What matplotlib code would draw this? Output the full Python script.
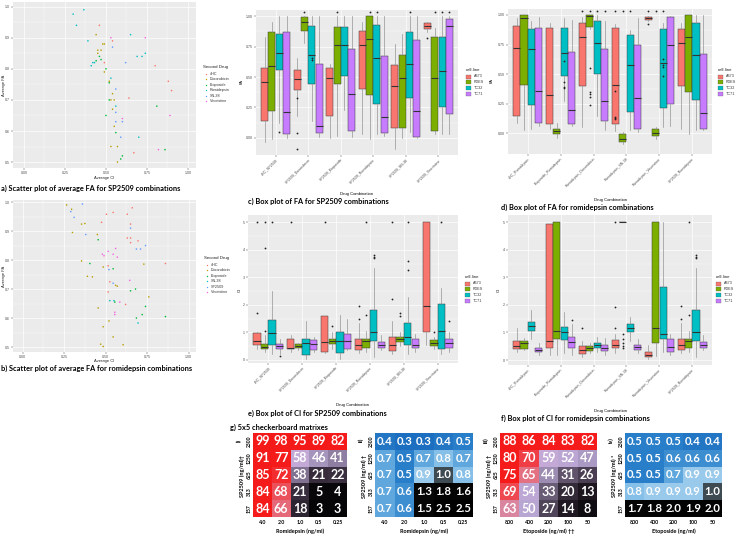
import numpy as np
import matplotlib.pyplot as plt
from matplotlib.colors import LinearSegmentedColormap, Normalize
from matplotlib.patches import Rectangle
from matplotlib.lines import Line2D

plt.rcParams['font.family'] = ['Liberation Sans', 'DejaVu Sans']
TITLE_FONT = ['Lato', 'DejaVu Sans']

W, H = 740, 537
PANEL = '#EBEBEB'

# ---------------- scatter data ----------------
a_drugs = ['4HC', 'Doxorubicin', 'Etoposide', 'Romidepsin', 'SN-38', 'Vincristine']
b_drugs = ['4HC', 'Doxorubicin', 'Etoposide', 'SN-38', 'SP2509', 'Vincristine']
drug_colors = ['#F8766D', '#B79F00', '#00BA38', '#00BFC4', '#619CFF', '#F564E3']

a_ci = [0.30, 0.365, 0.32, 0.46, 0.44, 0.53, 0.54, 0.65, 0.74, 0.39, 0.49, 0.48, 0.45, 0.47, 0.54,
        0.74, 0.69, 0.72, 0.45, 0.46, 0.47, 0.44, 0.43, 0.42, 0.41, 0.49, 0.62, 0.80, 0.50, 0.49,
        0.52, 0.52, 0.53, 0.56, 0.88, 0.90, 0.54, 0.55, 0.53, 0.52, 0.64, 0.56, 0.54, 0.81, 0.50,
        0.56, 0.60, 0.60, 0.56, 0.55, 0.89, 0.56, 0.59, 0.70, 0.53, 0.57, 0.67, 0.82, 0.86, 0.60,
        0.59, 0.57]
a_fa = [0.976, 0.99, 0.94, 0.94, 0.91, 0.90, 0.89, 0.91, 0.90, 0.89, 0.88, 0.88, 0.86, 0.86, 0.87,
        0.85, 0.84, 0.84, 0.85, 0.84, 0.83, 0.826, 0.82, 0.82, 0.81, 0.82, 0.82, 0.81, 0.80, 0.79,
        0.76, 0.755, 0.77, 0.735, 0.76, 0.73, 0.72, 0.70, 0.70, 0.70, 0.706, 0.68, 0.67, 0.68, 0.65,
        0.66, 0.64, 0.63, 0.63, 0.615, 0.65, 0.595, 0.58, 0.58, 0.55, 0.55, 0.53, 0.54, 0.54, 0.52,
        0.51, 0.50]
a_drug = [3, 3, 3, 0, 1, 5, 0, 3, 5, 3, 1, 1, 1, 1, 4,
          3, 3, 3, 1, 2, 2, 2, 3, 3, 3, 0, 4, 0, 2, 1,
          1, 2, 3, 4, 0, 0, 1, 1, 1, 2, 0, 3, 1, 2, 2,
          4, 5, 4, 4, 1, 5, 2, 4, 3, 1, 1, 0, 5, 2, 2,
          2, 1]

b_ci = [0.265, 0.295, 0.29, 0.36, 0.31, 0.505, 0.545, 0.63, 0.66, 0.475, 0.355, 0.375, 0.65, 0.65,
        0.30, 0.38, 0.45, 0.455, 0.63, 0.65, 0.695, 0.65, 0.74, 0.685, 0.71, 0.56, 0.515, 0.48,
        0.49, 0.545, 0.57, 0.355, 0.405, 0.73, 0.86, 0.515, 0.485, 0.52, 0.545, 0.39, 0.42, 0.525,
        0.545, 0.645, 0.56, 0.57, 0.515, 0.65, 0.68, 0.76, 0.525, 0.55, 0.555, 0.585, 0.62, 0.455,
        0.74, 0.555, 0.555, 0.72, 0.685, 0.86, 0.52, 0.695, 0.485, 0.545, 0.47, 0.485, 0.605]
b_fa = [0.99, 0.975, 0.967, 0.993, 0.947, 0.958, 0.964, 0.958, 0.98, 0.93, 0.924, 0.926, 0.924, 0.91,
        0.895, 0.888, 0.888, 0.87, 0.876, 0.876, 0.866, 0.86, 0.85, 0.838, 0.838, 0.84, 0.83, 0.82,
        0.815, 0.82, 0.81, 0.797, 0.788, 0.786, 0.788, 0.78, 0.776, 0.767, 0.77, 0.744, 0.742, 0.725,
        0.72, 0.73, 0.713, 0.71, 0.69, 0.694, 0.70, 0.673, 0.66, 0.66, 0.655, 0.655, 0.647, 0.635,
        0.64, 0.62, 0.612, 0.612, 0.60, 0.605, 0.59, 0.583, 0.57, 0.535, 0.51, 0.502, 0.508]
b_drug = [1, 1, 4, 4, 4, 0, 0, 0, 0, 0, 1, 1, 0, 4,
          1, 4, 1, 2, 0, 0, 0, 0, 4, 4, 4, 5, 5, 5,
          5, 5, 5, 1, 2, 1, 0, 0, 1, 4, 2, 1, 1, 0,
          4, 5, 1, 1, 0, 2, 2, 1, 3, 3, 2, 5, 0, 1,
          2, 5, 5, 2, 2, 2, 1, 3, 1, 1, 1, 1, 1]

# ---------------- box plot data (6 combinations x 4 cell lines) ----------------
cell_lines = ['A673', 'RDES', 'TC32', 'TC71']
cell_colors = ['#F8766D', '#7CAE00', '#00BFC4', '#C77CFF']
sp_combos = ['4HC_SP2509', 'SP2509_Doxorubicin', 'SP2509_Etoposide',
             'SP2509_Romidepsin', 'SP2509_SN-38', 'SP2509_Vincristine']
ro_combos = ['4HC_Romidepsin', 'Etoposide_Romidepsin', 'Romidepsin_Doxorubicin',
             'Romidepsin_SN-38', 'Romidepsin_Vincristine', 'SP2509_Romidepsin']

# c) FA, SP2509 combinations
c_lo = [[-0.03, -0.01, 0.12, 0.0], [0.18, 0.78, 0.14, 0.01], [0.0, 0.02, 0.23, 0.01],
        [0.03, -0.01, 0.03, 0.02], [-0.09, 0.0, 0.05, 0.0], [0.87, 0.03, 0.03, 0.03]]
c_q1 = [[0.14, 0.22, 0.56, 0.03], [0.39, 0.88, 0.44, 0.04], [0.18, 0.44, 0.51, 0.06],
        [0.40, 0.35, 0.28, 0.04], [0.08, 0.08, 0.33, 0.01], [0.89, 0.06, 0.25, 0.20]]
c_med = [[0.46, 0.59, 0.70, 0.21], [0.48, 0.95, 0.68, 0.10], [0.49, 0.76, 0.76, 0.36],
         [0.76, 0.81, 0.66, 0.17], [0.43, 0.49, 0.61, 0.22], [0.915, 0.49, 0.55, 0.915]]
c_q3 = [[0.57, 0.87, 0.85, 0.87], [0.56, 0.99, 0.92, 0.61], [0.57, 0.91, 0.91, 0.73],
        [0.88, 1.0, 0.93, 0.67], [0.60, 0.68, 0.87, 0.80], [0.94, 0.83, 0.83, 0.98]]
c_hi = [[0.83, 0.95, 1.0, 1.0], [0.66, 1.0, 1.0, 1.0], [0.61, 1.0, 1.0, 1.0],
        [0.95, 1.0, 1.0, 1.0], [0.77, 0.85, 1.0, 1.0], [0.95, 0.90, 1.0, 1.0]]
c_fl = [[[], [], [0.05], []], [[0.33, 0.04, -0.09], [1.03], [0.64, 0.66], []],
        [[], [1.03], [], []], [[], [1.03], [1.03], []], [[], [], [1.03], []],
        [[0.82], [1.03], [1.03], [1.03]]]

# d) FA, romidepsin combinations
d_lo = [[0.09, 0.03, 0.04, 0.06], [0.04, -0.04, 0.27, 0.06], [0.05, 0.88, 0.15, 0.03],
        [0.02, -0.09, 0.03, 0.01], [0.95, -0.05, 0.05, 0.06], [0.04, -0.01, 0.03, 0.03]]
d_q1 = [[0.15, 0.41, 0.24, 0.09], [0.08, -0.005, 0.48, 0.08], [0.40, 0.90, 0.50, 0.10],
        [0.08, -0.07, 0.18, 0.04], [0.96, -0.02, 0.21, 0.25], [0.40, 0.35, 0.28, 0.04]]
d_med = [[0.72, 0.97, 0.71, 0.36], [0.32, 0.02, 0.68, 0.20], [0.81, 0.99, 0.76, 0.27],
         [0.41, -0.045, 0.58, 0.30], [0.97, 0.005, 0.59, 0.75], [0.76, 0.81, 0.66, 0.17]]
d_q3 = [[0.91, 1.0, 0.88, 0.89], [0.89, 0.04, 0.89, 0.69], [0.93, 1.0, 0.95, 0.71],
        [0.89, -0.01, 0.83, 0.75], [0.98, 0.04, 0.88, 0.98], [0.88, 1.0, 0.93, 0.67]]
d_hi = [[0.97, 1.0, 0.95, 0.98], [0.93, 0.09, 0.97, 0.96], [0.98, 1.0, 1.0, 0.95],
        [0.92, 0.01, 0.87, 0.97], [0.99, 0.05, 0.93, 0.99], [0.93, 1.0, 1.0, 1.0]]
d_fl = [[[], [], [], []], [[], [], [0.61, 0.43, 0.39, 0.38], []],
        [[1.03], [0.55, 0.35, 0.33, 0.31, 0.24, 1.03], [1.03], [1.03]],
        [[0.36, 0.14, 0.13, 0.12, 1.03], [1.03], [1.03], []],
        [[0.92, 1.03], [1.03], [0.63, 0.58, 0.56, 0.48, 1.03], []], [[], [], [], []]]

# e) CI, SP2509 combinations
e_lo = [[0.4, 0.3, 0.2, 0.2], [0.3, 0.35, 0.05, 0.3], [0.25, 0.4, 0.05, 0.35],
        [0.25, 0.3, 0.1, 0.35], [0.2, 0.5, 0.2, 0.3], [0.55, 0.4, 0.2, 0.3]]
e_q1 = [[0.54, 0.39, 0.53, 0.39], [0.40, 0.45, 0.17, 0.38], [0.30, 0.58, 0.27, 0.40],
        [0.35, 0.42, 0.70, 0.42], [0.34, 0.65, 0.55, 0.45], [1.0, 0.5, 0.4, 0.45]]
e_med = [[0.70, 0.48, 0.97, 0.50], [0.45, 0.52, 0.62, 0.57], [0.65, 0.68, 0.70, 0.68],
         [0.53, 0.70, 1.0, 0.55], [0.55, 0.75, 0.85, 0.55], [1.95, 0.63, 1.05, 0.6]]
e_q3 = [[0.99, 0.57, 1.45, 0.57], [0.78, 0.58, 0.75, 0.72], [1.6, 0.78, 1.02, 0.95],
        [0.78, 0.78, 1.8, 0.65], [0.85, 0.85, 1.33, 0.75], [5.0, 0.72, 2.05, 0.78]]
e_hi = [[1.0, 0.9, 2.5, 0.75], [0.9, 0.6, 1.4, 0.85], [1.6, 1.0, 1.65, 1.5],
        [1.35, 1.05, 3.35, 0.92], [1.4, 1.0, 2.3, 0.95], [5.0, 0.85, 2.6, 1.0]]
e_fl = [[[1.7, 5.0], [1.05, 4.07, 5.0], [5.0], [0.15]], [[5.0], [], [], []],
        [[5.0], [1.25], [], []], [[1.48, 1.95], [1.65, 5.0], [3.7, 3.75, 3.8], []],
        [[2.2, 5.0], [1.6, 1.7], [3.25, 3.6, 5.0], []], [[], [1.0], [5.0], [1.4]]]

# f) CI, romidepsin combinations
f_lo = [[0.3, 0.35, 0.75, 0.2], [0.2, 0.2, 0.25, 0.2], [0.1, 0.25, 0.3, 0.2],
        [0.25, 5.0, 0.7, 0.25], [0.05, 0.15, 0.3, 0.2], [0.25, 0.3, 0.1, 0.35]]
f_q1 = [[0.4, 0.4, 1.05, 0.3], [0.45, 0.75, 0.72, 0.45], [0.22, 0.32, 0.45, 0.32],
        [0.45, 5.0, 1.0, 0.38], [0.1, 0.62, 0.75, 0.3], [0.35, 0.42, 0.70, 0.42]]
f_med = [[0.5, 0.62, 1.22, 0.38], [0.68, 1.05, 1.0, 0.65], [0.35, 0.45, 0.55, 0.42],
         [0.55, 5.0, 1.18, 0.47], [0.2, 1.18, 0.93, 0.47], [0.53, 0.70, 1.0, 0.55]]
f_q3 = [[0.7, 0.68, 1.38, 0.45], [4.95, 5.0, 1.2, 0.85], [0.5, 0.52, 0.62, 0.55],
        [0.72, 5.0, 1.32, 0.55], [0.3, 5.0, 2.65, 0.75], [0.78, 0.78, 1.8, 0.65]]
f_hi = [[1.15, 0.8, 1.82, 0.6], [4.95, 5.0, 1.75, 1.3], [0.7, 0.62, 0.85, 0.8],
        [0.95, 5.0, 1.55, 0.75], [0.55, 5.0, 5.0, 0.95], [1.35, 1.05, 3.35, 0.92]]
f_fl = [[[], [], [], []], [[], [], [], [1.45]], [[1.15], [], [], []],
        [[1.18, 1.92, 5.0], [0.45, 0.5, 0.6, 0.75, 0.95], [], []], [[], [], [], []],
        [[1.48, 1.95], [1.65, 5.0], [3.7, 3.75, 3.8], []]]

# ---------------- checkerboard data ----------------
sp_doses = ['2500', '1250', '625', '313', '157']
romi_doses = ['4.0', '2.0', '1.0', '0.5', '0.25']
eto_doses = ['800', '400', '200', '100', '50']
g1_fa = [[99, 98, 95, 89, 82], [91, 77, 58, 46, 41], [85, 72, 38, 21, 22],
         [84, 68, 21, 5, 4], [84, 66, 18, 3, 3]]
g2_ci = [[0.4, 0.3, 0.3, 0.4, 0.5], [0.7, 0.5, 0.7, 0.8, 0.7], [0.7, 0.5, 0.9, 1.0, 0.8],
         [0.7, 0.6, 1.3, 1.8, 1.6], [0.7, 0.6, 1.5, 2.5, 2.5]]
g3_fa = [[88, 86, 84, 83, 82], [80, 70, 59, 52, 47], [75, 65, 44, 31, 26],
         [69, 54, 33, 20, 13], [63, 50, 27, 14, 8]]
g4_ci = [[0.5, 0.5, 0.5, 0.4, 0.4], [0.5, 0.5, 0.6, 0.6, 0.6], [0.5, 0.5, 0.7, 0.9, 0.9],
         [0.8, 0.9, 0.9, 0.9, 1.0], [1.7, 1.8, 2.0, 1.9, 2.0]]

fig = plt.figure(figsize=(7.4, 5.37), dpi=100)


def ax_px(x0, y0, x1, y1):
    return fig.add_axes([x0 / W, 1 - y1 / H, (x1 - x0) / W, (y1 - y0) / H])


def ftext(x, y, s, **kw):
    return fig.text(x / W, 1 - y / H, s, **kw)


def gg_style(ax):
    ax.set_facecolor(PANEL)
    ax.set_axisbelow(True)
    for s in ax.spines.values():
        s.set_visible(False)
    ax.grid(which='major', color='white', lw=0.5)
    ax.grid(which='minor', color='white', lw=0.25)
    ax.tick_params(which='major', length=1.2, width=0.3, color='#333333',
                   labelsize=2.6, labelcolor='#4D4D4D', pad=0.8)
    ax.tick_params(which='minor', length=0)


def scatter_panel(box, ci, fa, drug, xlim, ylim):
    ax = ax_px(*box)
    gg_style(ax)
    ax.scatter(ci, fa, s=1.3, c=[drug_colors[d] for d in drug], linewidths=0, zorder=3)
    ax.set_xlim(xlim)
    ax.set_ylim(ylim)
    ax.set_xticks([0, 0.25, 0.5, 0.75, 1.0])
    ax.set_xticklabels(['0.00', '0.25', '0.50', '0.75', '1.00'])
    ax.set_xticks([0.125, 0.375, 0.625, 0.875], minor=True)
    ax.set_yticks([0.5, 0.6, 0.7, 0.8, 0.9, 1.0])
    ax.set_yticklabels(['0.5', '0.6', '0.7', '0.8', '0.9', '1.0'])
    ax.set_yticks([0.55, 0.65, 0.75, 0.85, 0.95], minor=True)
    return ax


def scatter_legend(x, y, names):
    ftext(x, y, 'Second Drug', fontsize=3.2, color='#222222', va='center')
    for i, n in enumerate(names):
        yy = y + 7 + i * 5.4
        fig.add_artist(Line2D([(x + 3) / W], [1 - yy / H], marker='o', ms=1.0, mew=0,
                              color=drug_colors[i], transform=fig.transFigure))
        ftext(x + 7, yy, n, fontsize=2.7, color='#333333', va='center')


def box_panel(box, lo, q1, med, q3, hi, fl, combos, ylim, yticks, ylabels, yminor):
    ax = ax_px(*box)
    gg_style(ax)
    bw = 0.225
    for k in range(4):
        stats = [dict(whislo=lo[g][k], q1=q1[g][k], med=med[g][k], q3=q3[g][k],
                      whishi=hi[g][k], fliers=fl[g][k]) for g in range(6)]
        pos = np.arange(1, 7) + (k - 1.5) * bw
        ax.bxp(stats, positions=pos, widths=bw * 0.96, patch_artist=True, showcaps=False,
               boxprops=dict(facecolor=cell_colors[k], edgecolor='#3a3a3a', linewidth=0.35),
               medianprops=dict(color='#333333', linewidth=0.8),
               whiskerprops=dict(color='#8a8a8a', linewidth=0.45),
               flierprops=dict(marker='o', markersize=1.3, markerfacecolor='#222222',
                               markeredgecolor='none'),
               manage_ticks=False, zorder=3)
    ax.set_xlim(0.4, 6.6)
    ax.set_ylim(ylim)
    ax.set_xticks(np.arange(1, 7))
    ax.set_xticklabels(combos, rotation=45, ha='right', rotation_mode='anchor')
    ax.set_yticks(yticks)
    ax.set_yticklabels(ylabels)
    ax.set_yticks(yminor, minor=True)
    return ax


def box_legend(x, y):
    ftext(x, y, 'cell.line', fontsize=3.2, color='#222222', va='center')
    for i, n in enumerate(cell_lines):
        yy = y + 6.5 + i * 5.8
        fig.add_artist(Rectangle((x / W, 1 - (yy + 2) / H), 5 / W, 4 / H,
                                 facecolor=cell_colors[i], edgecolor='#555555', lw=0.2,
                                 transform=fig.transFigure))
        ftext(x + 8, yy, n, fontsize=2.7, color='#333333', va='center')


# ---------------- scatter plots ----------------
axa = scatter_panel((13, 2, 196, 168), a_ci, a_fa, a_drug, (-0.067, 1.049), (0.481, 1.015))
ftext(104, 178, 'Average CI', fontsize=3.0, ha='center', va='center', color='#222222')
ftext(4, 85, 'Average FA', fontsize=3.0, ha='center', va='center', rotation=90, color='#222222')
scatter_legend(203, 67, a_drugs)
ftext(1, 188, 'a) Scatter plot of average FA for SP2509 combinations', fontsize=5.3,
      fontweight='bold', family=TITLE_FONT, va='center')

axb = scatter_panel((13, 200, 196, 352), b_ci, b_fa, b_drug, (-0.058, 1.044), (0.483, 1.007))
ftext(104, 361, 'Average CI', fontsize=3.0, ha='center', va='center', color='#222222')
ftext(4, 276, 'Average FA', fontsize=3.0, ha='center', va='center', rotation=90, color='#222222')
scatter_legend(204, 258, b_drugs)
ftext(1, 368, 'b) Scatter plot of average FA for romidepsin combinations', fontsize=5.3,
      fontweight='bold', family=TITLE_FONT, va='center')

# ---------------- box plots ----------------
fa_ticks = [0.0, 0.25, 0.5, 0.75, 1.0]
fa_labels = ['0.00', '0.25', '0.50', '0.75', '1.00']
fa_minor = [0.125, 0.375, 0.625, 0.875]
ci_ticks = [0, 1, 2, 3, 4, 5]
ci_labels = ['0', '1', '2', '3', '4', '5']
ci_minor = [0.5, 1.5, 2.5, 3.5, 4.5]

box_panel((256, 10, 458, 155), c_lo, c_q1, c_med, c_q3, c_hi, c_fl, sp_combos,
          (-0.14, 1.05), fa_ticks, fa_labels, fa_minor)
ftext(242, 82, 'FA', fontsize=3.0, rotation=90, ha='center', va='center')
ftext(357, 194, 'Drug Combination', fontsize=3.0, ha='center', va='center')
box_legend(466, 70)
ftext(248, 201, 'c) Box plot of FA for SP2509 combinations', fontsize=5.3,
      fontweight='bold', family=TITLE_FONT, va='center')

box_panel((508, 9, 712, 154), d_lo, d_q1, d_med, d_q3, d_hi, d_fl, ro_combos,
          (-0.175, 1.05), fa_ticks, fa_labels, fa_minor)
ftext(492, 80, 'FA', fontsize=3.0, rotation=90, ha='center', va='center')
ftext(610, 200, 'Drug Combination', fontsize=3.0, ha='center', va='center')
box_legend(718, 70)
ftext(501, 207, 'd) Box plot of FA for romidepsin combinations', fontsize=5.3,
      fontweight='bold', family=TITLE_FONT, va='center')

box_panel((248, 215, 458, 363), e_lo, e_q1, e_med, e_q3, e_hi, e_fl, sp_combos,
          (-0.109, 5.265), ci_ticks, ci_labels, ci_minor)
ftext(240, 290, 'CI', fontsize=3.0, rotation=90, ha='center', va='center')
ftext(353, 405, 'Drug Combination', fontsize=3.0, ha='center', va='center')
box_legend(465, 277)
ftext(248, 413, 'e) Box plot of CI for SP2509 combinations', fontsize=5.3,
      fontweight='bold', family=TITLE_FONT, va='center')

box_panel((508, 215, 712, 365), f_lo, f_q1, f_med, f_q3, f_hi, f_fl, ro_combos,
          (-0.18, 5.26), ci_ticks, ci_labels, ci_minor)
ftext(499, 290, 'CI', fontsize=3.0, rotation=90, ha='center', va='center')
ftext(610, 411, 'Drug Combination', fontsize=3.0, ha='center', va='center')
box_legend(716, 277)
ftext(501, 418, 'f) Box plot of CI for romidepsin combinations', fontsize=5.3,
      fontweight='bold', family=TITLE_FONT, va='center')

# ---------------- checkerboards ----------------
fa_cmap = LinearSegmentedColormap.from_list('fa', [
    (0.00, '#000000'), (0.12, '#1a141c'), (0.22, '#3a3040'), (0.32, '#655870'),
    (0.42, '#9484a8'), (0.50, '#b8a6d2'), (0.60, '#c6aad8'), (0.64, '#e07c90'),
    (0.69, '#ee4a52'), (0.74, '#f61c1c'), (1.00, '#f41a1a')])
ci_cmap = LinearSegmentedColormap.from_list('ci', [
    (0.0, '#1c6fc0'), (0.2 / 2.2, '#2a7fca'), (0.3 / 2.2, '#3f8fd2'), (0.4 / 2.2, '#62a8de'),
    (0.5 / 2.2, '#86bfe8'), (0.6 / 2.2, '#9ccbec'), (0.65 / 2.2, '#6f8fa0'),
    (0.7 / 2.2, '#3e4a52'), (1.0 / 2.2, '#080808'), (1.0, '#000000')])


def checker(box, vals, cmap, norm, fmt, cell_fs, xticks, xlabel, ylabel, roman):
    ax = ax_px(*box)
    arr = np.array(vals, dtype=float)
    ax.imshow(arr, cmap=cmap, norm=norm, aspect='auto')
    for r in range(5):
        for c in range(5):
            ax.text(c, r, fmt.format(arr[r, c]), ha='center', va='center', color='white',
                    fontsize=cell_fs, fontweight='bold', family=TITLE_FONT)
    ax.set_xticks(range(5))
    ax.set_xticklabels(xticks, fontsize=3.8, fontweight='bold', family=TITLE_FONT)
    ax.set_yticks(range(5))
    ax.set_yticklabels(sp_doses, fontsize=3.6, fontweight='bold', family=TITLE_FONT,
                       rotation=90, va='center')
    ax.tick_params(axis='x', length=0, pad=1.8)
    ax.tick_params(axis='y', length=0, pad=0.8)
    for s in ax.spines.values():
        s.set_visible(False)
    xc = (box[0] + box[2]) / 2
    lab_x = box[0] - 11
    ftext(xc, 531, xlabel, fontsize=4.0, fontweight='bold', family=TITLE_FONT,
          ha='center', va='center')
    ftext(lab_x, 476, ylabel, fontsize=4.0, fontweight='bold', family=TITLE_FONT,
          rotation=90, ha='center', va='center')
    ftext(lab_x - 3, 440, roman, fontsize=4.0, fontweight='bold', family=TITLE_FONT,
          rotation=90, ha='center', va='center')


fa_norm = Normalize(0, 100)
ci_norm = Normalize(0.3, 2.5)
ftext(230, 427, 'g) 5x5 checkerboard matrixes', fontsize=5.3, fontweight='bold',
      family=TITLE_FONT, va='center')
checker((253, 433, 347, 517), g1_fa, fa_cmap, fa_norm, '{:.0f}', 9, romi_doses,
        'Romidepsin (ng/ml)', 'SP2509 (ng/ml)\u2020', 'i)')
checker((375, 433, 473, 517), g2_ci, ci_cmap, ci_norm, '{:.1f}', 8.2, romi_doses,
        'Romidepsin (ng/ml)', 'SP2509 (ng/ml) \u2020', 'ii)')
checker((500, 433, 597, 517), g3_fa, fa_cmap, fa_norm, '{:.0f}', 9, eto_doses,
        'Etoposide (ng/ml) \u2020\u2020', 'SP2509 (ng/ml) \u2020', 'iii)')
checker((625, 433, 722, 517), g4_ci, ci_cmap, ci_norm, '{:.1f}', 8.2, eto_doses,
        'Etoposide (ng/ml)', 'SP2509 (ng/ml) *', 'iv)')

fig.savefig('out.png', dpi=100)
